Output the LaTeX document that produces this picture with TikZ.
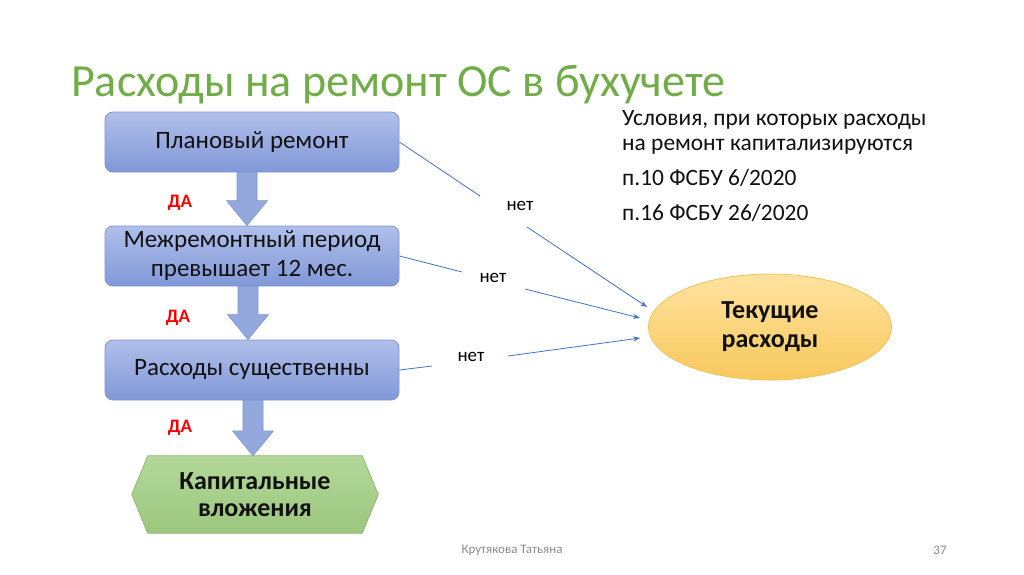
\documentclass[tikz,border=0pt]{standalone}
\usepackage{fontspec}
\setmainfont{Carlito}
\usetikzlibrary{calc,backgrounds,arrows.meta,shapes.geometric}
\definecolor{titlegreen}{HTML}{70AD47}
\definecolor{boxtop}{HTML}{B0BFEA}
\definecolor{boxbot}{HTML}{8198D8}
\definecolor{boxedge}{HTML}{7E95D2}
\definecolor{arrfill}{HTML}{93A8DD}
\definecolor{hextop}{HTML}{B3D89A}
\definecolor{hexbot}{HTML}{9CC77F}
\definecolor{hexedge}{HTML}{8CB86F}
\definecolor{elltop}{HTML}{FFE3A0}
\definecolor{ellbot}{HTML}{F8C85C}
\definecolor{elledge}{HTML}{F0C25A}
\definecolor{linkblue}{HTML}{4472C4}
\definecolor{footgray}{HTML}{8C8C8C}
\definecolor{darktext}{HTML}{111111}
\tikzset{
  procbox/.style={rounded corners=8pt, draw=boxedge, line width=0.8pt,
    top color=boxtop, bottom color=boxbot, minimum width=294pt, minimum height=60pt,
    inner sep=0pt, align=center, text=darktext, font=\fontsize{25}{29}\selectfont},
  blockarr/.style={fill=arrfill, draw=boxedge, line width=0.6pt},
  yeslabel/.style={text=red, font=\bfseries\fontsize{19}{22}\selectfont, inner sep=0pt},
  nolabel/.style={text=black, font=\fontsize{19}{22}\selectfont, inner sep=0pt},
  link/.style={draw=linkblue, line width=0.8pt},
  linkarr/.style={draw=linkblue, line width=0.8pt, -{Stealth[length=7pt,width=5pt]}},
  righttext/.style={anchor=base west, inner sep=0pt, text=darktext, font=\fontsize{23.4}{25}\selectfont},
  endbox/.style={inner sep=0pt, minimum width=246pt, minimum height=77pt, align=center,
    text=darktext, font=\bfseries\fontsize{26}{27}\selectfont},
}
\newcommand\blkarrow[3]{%
  \path[blockarr] ($(#1.south)+(#3-10,0)$) -- ($(#2.north -| #1.south)+(#3-10,-25)$)
    -- ($(#2.north -| #1.south)+(#3-20.5,-25)$) -- ($(#2.north -| #1.south)+(#3,0)$)
    -- ($(#2.north -| #1.south)+(#3+20.5,-25)$) -- ($(#2.north -| #1.south)+(#3+10,-25)$)
    -- ($(#1.south)+(#3+10,0)$) -- cycle;}
\begin{document}
\begin{tikzpicture}[x=1pt,y=-1pt]
\useasboundingbox (0,0) rectangle (1024,574);

% title
\node[anchor=base west, inner sep=0pt, text=titlegreen, font=\fontsize{46}{50}\selectfont]
  (title) at (71,96) {Расходы на ремонт ОС в бухучете};

% boxes
\node[procbox] (b1) at (252,142) {Плановый ремонт};
\node[procbox] (b2) at (252,256) {Межремонтный период\\превышает 12 мес.};
\node[procbox] (b3) at (252,370) {Расходы существенны};
\node[endbox] (cap) at (255,494.5) {Капитальные\\вложения};

\begin{scope}[on background layer]
  \fill[white] (0,0) rectangle (1024,574);
  \path[draw=hexedge, line width=0.8pt, top color=hextop, bottom color=hexbot]
    (cap.west) -- ($(cap.north west)+(16,0)$) -- ($(cap.north east)+(-16,0)$)
    -- (cap.east) -- ($(cap.south east)+(-16,0)$) -- ($(cap.south west)+(16,0)$) -- cycle;
  \blkarrow{b1}{b2}{-5}
  \blkarrow{b2}{b3}{-4}
  \blkarrow{b3}{cap}{1}
\end{scope}

% yes labels
\node[yeslabel] (y1) at (180,203) {ДА};
\node[yeslabel] (y2) at (178,318) {ДА};
\node[yeslabel] (y3) at (180,428) {ДА};

% ellipse
\node[ellipse, draw=elledge, line width=0.8pt, top color=elltop, bottom color=ellbot,
  minimum width=243pt, minimum height=106pt, inner sep=0pt, align=center, text=darktext,
  font=\bfseries\fontsize{26}{29}\selectfont] (ell) at (770,327) {Текущие\\расходы};

% right texts
\node[righttext] (r1) at (622,125) {Условия, при которых расходы};
\node[righttext] (r2) at (622,150) {на ремонт капитализируются};
\node[righttext] (r3) at (622,185) {п.10 ФСБУ 6/2020};
\node[righttext] (r4) at (622,220) {п.16 ФСБУ 26/2020};

% no labels and links
\node[nolabel] (n1) at (520,206) {нет};
\node[nolabel] (n2) at (493,278) {нет};
\node[nolabel] (n3) at (471,357) {нет};

\coordinate (a1) at ($(n1)+(-40,-10)$);
\coordinate (c1) at ($(n1)+(7,21)$);
\coordinate (a2) at ($(n2)+(-31,-6)$);
\coordinate (c2) at ($(n2)+(32,11)$);
\coordinate (a3) at ($(n3)+(-39,9)$);
\coordinate (c3) at ($(n3)+(37,-1)$);
\coordinate (t1) at ($(ell.west)+(-1,-20)$);
\coordinate (t2) at ($(ell.west)+(-8,-9)$);
\coordinate (t3) at ($(ell.west)+(-8,11)$);

\draw[link] (b1.east) -- (a1);
\draw[linkarr] (c1) -- (t1);
\draw[link] (b2.east) -- (a2);
\draw[linkarr] (c2) -- (t2);
\draw[link] (b3.east) -- (a3);
\draw[linkarr] (c3) -- (t3);

% footer
\node[inner sep=0pt, text=footgray, font=\fontsize{13}{15}\selectfont] (foot) at (512,550) {Крутякова Татьяна};
\node[inner sep=0pt, text=footgray, font=\fontsize{13}{15}\selectfont] (page) at (940,550) {37};
\end{tikzpicture}
\end{document}
